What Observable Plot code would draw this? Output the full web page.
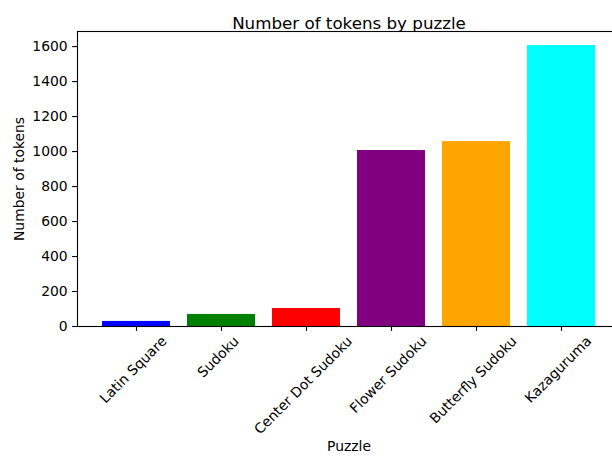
<!DOCTYPE html>
<html>
<head>
<meta charset="utf-8">
<script src="https://cdn.jsdelivr.net/npm/d3@7"></script>
<script src="https://cdn.jsdelivr.net/npm/@observablehq/plot@0.6"></script>
<style>
  html, body { margin: 0; padding: 0; background: #fff; overflow: hidden; }
  #chart { width: 612px; height: 464px; overflow: hidden; }
  #chart svg { max-width: none !important; width: 621px !important; height: 464px !important; }
</style>
</head>
<body>
<div id="chart"></div>
<script>
const puzzles = ["Latin Square", "Sudoku", "Center Dot Sudoku", "Flower Sudoku", "Butterfly Sudoku", "Kazaguruma"];
const tokens = [29, 69, 103, 1006, 1057, 1606];
const colors = ["blue", "green", "red", "purple", "orange", "cyan"];
const yTicks = [0, 200, 400, 600, 800, 1000, 1200, 1400, 1600];
const titleText = "Number of tokens by puzzle";
const xLabel = "Puzzle";
const yLabel = "Number of tokens";

const data = puzzles.map((p, i) => ({puzzle: p, tokens: tokens[i], color: colors[i]}));

const FONT = "DejaVu Sans";
const FS = 13.9;
const TICK = 4.9, PAD = 4.9;

const ctx = document.createElement("canvas").getContext("2d");
ctx.font = `${FS}px "${FONT}"`;
const lineH = FS * 1.164;

const labelMarks = puzzles.map(p => {
  const w = ctx.measureText(p).width;
  const half = (w + lineH) / (2 * Math.SQRT2);
  return Plot.text([p], {x: d => d, frameAnchor: "bottom", dy: TICK + PAD + half, rotate: -45, textAnchor: "middle", fill: "black"});
});

const chart = Plot.plot({
  width: 621,
  height: 464,
  marginLeft: 77,
  marginRight: 1,
  marginTop: 31,
  marginBottom: 138,
  style: {fontFamily: FONT, fontSize: FS + "px", color: "black", background: "white", maxWidth: "none"},
  x: {type: "band", domain: puzzles, paddingInner: 0.2, paddingOuter: 0.29},
  y: {domain: [0, 1606 * 1.05]},
  color: {type: "identity"},
  marks: [
    Plot.barY(data, {x: "puzzle", y: "tokens", fill: "color"}),
    Plot.axisY({ticks: yTicks, tickFormat: d3.format("d"), tickSize: TICK, tickPadding: PAD, label: null, stroke: "black", strokeWidth: 1.1}),
    Plot.axisX({tickSize: TICK, tickFormat: () => "", label: null, stroke: "black", strokeWidth: 1.1}),
    ...labelMarks,
    Plot.text([xLabel], {frameAnchor: "bottom", dy: 124, fill: "black"}),
    Plot.text([yLabel], {frameAnchor: "left", textAnchor: "middle", dx: -58, rotate: -90, fill: "black"}),
    Plot.text([titleText], {frameAnchor: "top", dy: -14, fontSize: 16.7, fill: "black"}),
    Plot.frame({stroke: "black", strokeWidth: 1.1})
  ]
});
document.getElementById("chart").appendChild(chart);
</script>
</body>
</html>
